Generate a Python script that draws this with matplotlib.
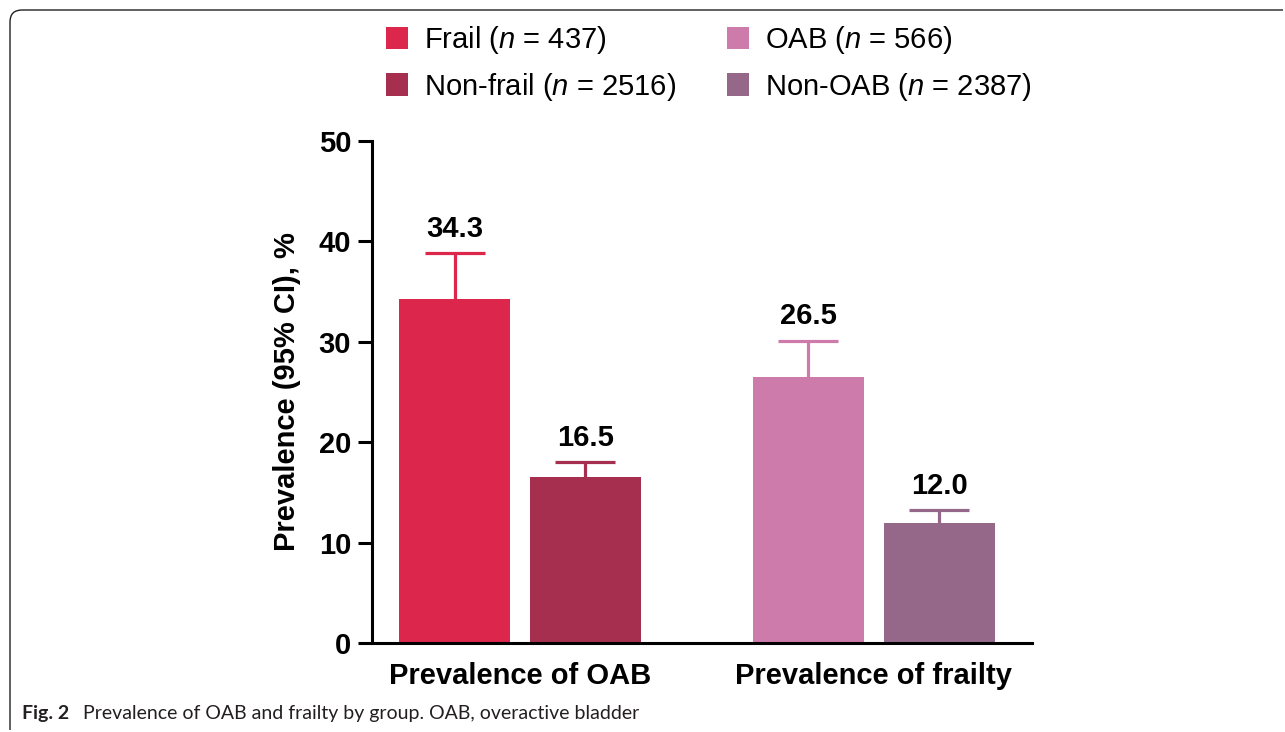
import numpy as np
import matplotlib
matplotlib.use("Agg")
import matplotlib.pyplot as plt
from matplotlib.patches import Patch, PathPatch
from matplotlib.path import Path

plt.rcParams['font.family'] = ['Liberation Sans', 'DejaVu Sans']
plt.rcParams['mathtext.fontset'] = 'custom'
plt.rcParams['mathtext.rm'] = 'Liberation Sans'
plt.rcParams['mathtext.it'] = 'Liberation Sans:italic'

# data
groups = ['Prevalence of OAB', 'Prevalence of frailty']
series = ['Frail ($n$ = 437)', 'Non-frail ($n$ = 2516)',
          'OAB ($n$ = 566)', 'Non-OAB ($n$ = 2387)']
values = [34.3, 16.5, 26.5, 12.0]        # prevalence, %
ci_upper = [38.8, 18.0, 30.1, 13.2]      # upper 95% CI, %
colors = ['#DD264B', '#A62F50', '#CC7BAA', '#95688A']

W, H = 1285, 732
fig = plt.figure(figsize=(W / 100, H / 100), dpi=100)
ax = fig.add_axes([372 / W, 89 / H, 660 / W, 502 / H])

gx = np.arange(len(groups))
off = 0.185
bw = 0.314
xs = np.array([gx[0] - off, gx[0] + off, gx[1] - off, gx[1] + off])

ax.bar(xs, values, width=bw, color=colors, zorder=2)
for x, v, c, col in zip(xs, values, ci_upper, colors):
    eb = ax.errorbar(x, v, yerr=[[0], [c - v]], fmt='none', ecolor=col,
                     elinewidth=2.3, capsize=21.5, capthick=2.3, zorder=1)
    eb[1][0].set_visible(False)   # no cap at the bar top
    ax.annotate(f'{v:.1f}', xy=(x, c), xytext=(0, 12), textcoords='offset points',
                ha='center', va='baseline', fontsize=21, fontweight='bold')

ax.set_xlim(-0.4187, 1.448)
ax.set_ylim(0, 50)
ax.set_yticks(range(0, 51, 10))
ax.set_xticks(gx)
ax.set_xticklabels(groups, fontsize=21, fontweight='bold')
for t in ax.get_yticklabels():
    t.set_fontsize(21)
    t.set_fontweight('bold')
ax.tick_params(axis='y', length=10, width=2.2, pad=5)
ax.tick_params(axis='x', length=0, pad=14)
for s in ['top', 'right']:
    ax.spines[s].set_visible(False)
for s in ['left', 'bottom']:
    ax.spines[s].set_linewidth(2.2)

fig.text(287 / W, 1 - 392 / H, 'Prevalence (95% CI), %', rotation=90,
         ha='center', va='center', fontsize=21, fontweight='bold')

handles = [Patch(facecolor=c, edgecolor='none') for c in colors]
leg = fig.legend(handles, series,
                 ncol=2, loc='upper left', bbox_to_anchor=(386 / W, 1 - 24 / H),
                 bbox_transform=fig.transFigure, frameon=False, fontsize=21,
                 handlelength=0.75, handleheight=0.8, handletextpad=0.55,
                 columnspacing=1.75, labelspacing=0.5, borderpad=0, borderaxespad=0)

# caption
fig.text(22 / W, 1 - 714 / H, 'Fig. 2', fontsize=14, fontweight='bold',
         family=['Lato', 'DejaVu Sans'], va='center', color='#231f20')
fig.text(83 / W, 1 - 714 / H, 'Prevalence of OAB and frailty by group. OAB, overactive bladder',
         fontsize=14, family=['Lato', 'DejaVu Sans'], va='center', color='#231f20')

# frame around the figure panel
pts = [(10, 730), (10, 22), (10, 10), (22, 10), (1283, 10)]
codes = [Path.MOVETO, Path.LINETO, Path.CURVE3, Path.CURVE3, Path.LINETO]
verts = [(x / W, 1 - y / H) for x, y in pts]
fig.patches.append(PathPatch(Path(verts, codes), transform=fig.transFigure,
                             fill=False, edgecolor='#231f20', linewidth=1.0))

fig.savefig('out.png', dpi=100)
